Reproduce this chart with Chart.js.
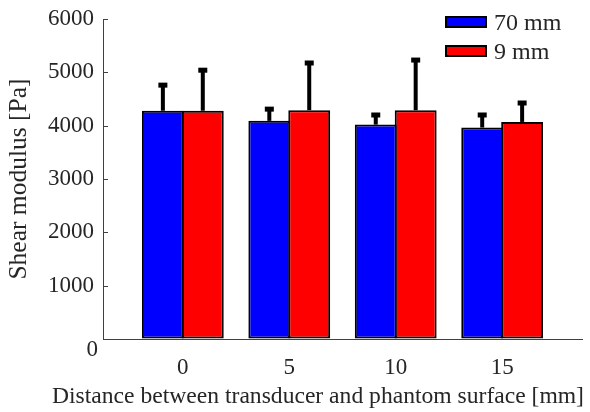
<!DOCTYPE html>
<html>
<head>
<meta charset="utf-8">
<title>Shear modulus vs distance</title>
<script src="https://cdn.jsdelivr.net/npm/chart.js@4.4.1/dist/chart.umd.min.js"></script>
<style>
    body { margin: 0; background: #fff; }
    #wrap { position: relative; width: 590px; height: 412px; }
    /* legend sits inside the plot, top right */
    #legend {
        position: absolute; left: 445px; top: 7.5px;
        font-family: 'Liberation Serif', 'Times New Roman', serif;
        font-size: 24px; color: #262626;
    }
    .legend-item { display: flex; align-items: center; height: 29px; }
    .legend-box { width: 38px; height: 8px; border: 2px solid #000; margin-right: 7px; }
</style>
</head>
<body>
<div id="wrap">
    <canvas id="modulusChart"></canvas>
    <div id="legend"></div>
</div>
<script>
// ============================================
// DATA
// ============================================
const categories = ['0', '5', '10', '15'];       // distance [mm]
const seriesNames = ['70 mm', '9 mm'];
const seriesColors = ['#0000ff', '#ff0000'];
const values70 = [4280, 4090, 4020, 3965];
const values9 = [4280, 4290, 4290, 4070];
const errors70 = [480, 220, 180, 235];             // upper error only
const errors9 = [760, 885, 940, 355];
const yTickValues = [0, 1000, 2000, 3000, 4000, 5000, 6000];
const xTitle = 'Distance between transducer and phantom surface [mm]';
const yTitle = 'Shear modulus [Pa]';

const FONT = "'Liberation Serif', 'Times New Roman', serif";
const TEXT_COLOR = '#262626';
const AXIS_COLOR = '#404040';

// ============================================
// ERROR BARS, inward y ticks, shifted "0" label
// ============================================
const errorBarPlugin = {
    id: 'errorBars',
    beforeDatasetsDraw(chart) {
        // matlab style ticks pointing into the plot
        const yScale = chart.scales.y;
        const ctx = chart.ctx;
        ctx.save();
        ctx.strokeStyle = AXIS_COLOR;
        ctx.lineWidth = 1;
        yTickValues.forEach(v => {
            const py = Math.round(yScale.getPixelForValue(v)) + 0.5;
            ctx.beginPath();
            ctx.moveTo(yScale.right, py);
            ctx.lineTo(yScale.right + 5, py);
            ctx.stroke();
        });
        ctx.restore();
    },
    afterDatasetsDraw(chart) {
        const ctx = chart.ctx;
        const yScale = chart.scales.y;
        const allErrors = [errors70, errors9];
        ctx.save();
        ctx.fillStyle = '#000';
        chart.data.datasets.forEach((ds, i) => {
            const meta = chart.getDatasetMeta(i);
            meta.data.forEach((bar, j) => {
                const top = yScale.getPixelForValue(ds.data[j].y + allErrors[i][j]);
                // vertical stem from the bar top up to the cap
                ctx.fillRect(bar.x - 2, top, 4, bar.y - top);
                // little cap
                ctx.fillRect(bar.x - 4.5, top - 2.5, 9, 5);
            });
        });
        ctx.restore();
    },
    afterDraw(chart) {
        const yScale = chart.scales.y;
        const xScale = chart.scales.x;
        const ctx = chart.ctx;
        ctx.save();
        ctx.fillStyle = TEXT_COLOR;
        // the zero label sits a bit lower than its tick in the original
        ctx.font = '23px ' + FONT;
        ctx.textAlign = 'right';
        ctx.textBaseline = 'middle';
        ctx.fillText('0', yScale.right - 5, yScale.getPixelForValue(0) + 11);
        // x title is wider than the axis, so chart.js would squeeze it
        ctx.font = '23.6px ' + FONT;
        ctx.textAlign = 'center';
        ctx.fillText(xTitle, 318, xScale.bottom - 15);
        ctx.restore();
    }
};

// ============================================
// CHART
// ============================================
const ctx = document.getElementById('modulusChart').getContext('2d');

new Chart(ctx, {
    type: 'bar',
    data: {
        datasets: [values70, values9].map((vals, i) => ({
            label: seriesNames[i],
            data: vals.map((v, j) => ({ x: j, y: v })),
            backgroundColor: seriesColors[i],
            borderColor: '#000',
            borderWidth: 2,
            borderSkipped: false,
            categoryPercentage: 0.75,
            barPercentage: 1.05     // neighbours share one edge line
        }))
    },
    options: {
        responsive: true,
        maintainAspectRatio: false,
        animation: false,
        layout: { padding: { top: 19, right: 8, left: 0, bottom: 0 } },
        plugins: {
            legend: { display: false },
            tooltip: { enabled: false }
        },
        scales: {
            x: {
                type: 'linear',
                min: -0.75,
                max: 3.75,
                offset: false,
                grid: { display: true, drawOnChartArea: false, drawTicks: false, offset: false },
                border: { display: true, color: AXIS_COLOR, width: 1 },
                afterBuildTicks: (scale) => {
                    scale.ticks = categories.map((c, i) => ({ value: i }));
                },
                afterFit: (scale) => { scale.height = 73; },
                ticks: {
                    callback: (v) => categories[v],
                    font: { family: FONT, size: 23 },
                    color: TEXT_COLOR,
                    padding: 15,
                    maxRotation: 0
                },
                title: { display: false }
            },
            y: {
                min: 0,
                max: 6000,
                afterBuildTicks: (scale) => {
                    scale.ticks = yTickValues.map(v => ({ value: v }));
                },
                afterFit: (scale) => {
                    scale.width = 103;
                    // don't let the label padding push the plot down
                    scale.paddingTop = 0;
                    scale.paddingBottom = 0;
                },
                grid: { drawOnChartArea: false, drawTicks: false },
                border: { display: true, color: AXIS_COLOR, width: 1 },
                ticks: {
                    // zero gets drawn separately by the plugin
                    callback: (v) => (v === 0 ? '' : String(v)),
                    font: { family: FONT, size: 23 },
                    color: TEXT_COLOR,
                    padding: 9
                },
                title: {
                    display: true,
                    text: yTitle,
                    font: { family: FONT, size: 25.5 },
                    color: TEXT_COLOR,
                    padding: { top: 4, bottom: 2 }
                }
            }
        }
    },
    plugins: [errorBarPlugin]
});

// ============================================
// LEGEND - html version, one row per series
// ============================================
document.getElementById('legend').innerHTML = seriesNames.map((name, i) => `
    <div class="legend-item">
        <span class="legend-box" style="background: ${seriesColors[i]};"></span>
        <span>${name}</span>
    </div>
`).join('');
</script>
</body>
</html>
